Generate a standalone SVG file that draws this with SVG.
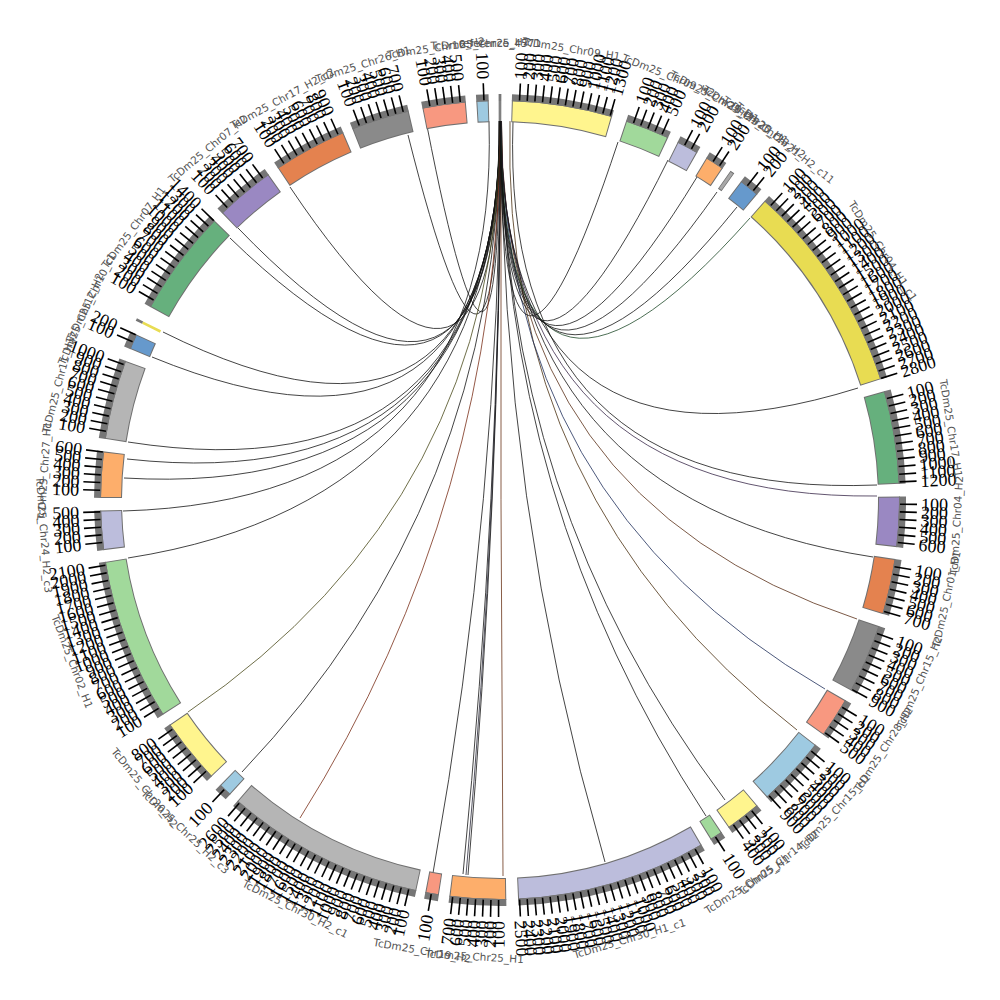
<svg xmlns="http://www.w3.org/2000/svg" xmlns:xlink="http://www.w3.org/1999/xlink" width="1000" height="1000" viewBox="0 0 1000 1000">
<style>
.bo{fill:none;stroke:#707070;stroke-width:22}
.fi{fill:none;stroke-width:20}
.bd{fill:none;stroke:#767676;stroke-width:7}
.R text,.L text{font-family:"Liberation Serif",serif;font-size:18px;fill:#000;dominant-baseline:central}
.L text{text-anchor:end}
.cl{font-family:"DejaVu Sans",sans-serif;font-size:10.5px;fill:#555;text-anchor:middle;dominant-baseline:central}
.lk path{fill:none;stroke:#141414;stroke-width:0.8}
</style>
<defs>
<line id="r" x1="900" y1="500" x2="917" y2="500" stroke="#000" stroke-width="1.6"/>
<line id="l" x1="100" y1="500" x2="83" y2="500" stroke="#000" stroke-width="1.6"/>
</defs>
<rect width="1000" height="1000" fill="#fff"/>
<g id="connectors" class="lk">
<path d="M499.2,121Q500,500 230,238"/>
<path d="M499.4,121Q500,500 238,228"/>
<path d="M499.6,121Q500,500 290,187"/>
<path d="M499,121Q500,500 408,135"/>
<path d="M499.8,121Q500,500 427,126"/>
<path d="M499.5,121Q500,500 163,332"/>
<path d="M499.7,121Q500,500 152,357"/>
<path d="M499.9,121Q500,500 128,442"/>
<path d="M500,121Q500,500 127,459"/>
<path d="M500.1,121Q500,500 124,478"/>
<path d="M489,121.3Q500,500 123,511"/>
<path d="M500.2,121Q500,500 128,558"/>
<path d="M500.3,121Q500,500 188,712" style="stroke:#4a4a1a"/>
<path d="M500.4,121Q500,500 242,772"/>
<path d="M500.5,121Q500,500 300,818" style="stroke:#7a2e18"/>
<path d="M500.6,121Q500,500 433,873"/>
<path d="M500.7,121Q500,500 463,874"/>
<path d="M500.8,121Q500,500 466,875" style="stroke:#2a2a3a"/>
<path d="M500.9,121Q500,500 468,875"/>
<path d="M501,121Q500,500 503,876" style="stroke:#6a3418"/>
<path d="M501.1,121Q500,500 605,862"/>
<path d="M501.2,121Q500,500 706,816"/>
<path d="M501.3,121Q500,500 725,800"/>
<path d="M510,121.1Q500,500 797,730" style="stroke:#4a3010"/>
<path d="M501.4,121Q500,500 825,689" style="stroke:#1f2f5a"/>
<path d="M501.5,121Q500,500 857,619" style="stroke:#5a3018"/>
<path d="M501.2,121Q500,500 873,557"/>
<path d="M501,121Q500,500 877,496" style="stroke:#3a2a4a"/>
<path d="M513,121.2Q500,500 877,485"/>
<path d="M500.8,121Q500,500 858,388"/>
<path d="M500.6,121Q500,500 750,218" style="stroke:#1f4a2a"/>
<path d="M500.5,121Q500,500 737,207"/>
<path d="M500.4,121Q500,500 717,192"/>
<path d="M500.3,121Q500,500 697,177"/>
<path d="M500.2,121Q500,500 668,160"/>
<path d="M500.1,121Q500,500 618,142"/>
</g>

<g id="A"><g transform="rotate(258.8 500 500)"><circle class="bo" cx="500" cy="500" r="389" stroke-dasharray="42.77 3000"/><circle class="fi" cx="500" cy="500" r="389" stroke="#f89880" stroke-dasharray="40.77 3000" stroke-dashoffset="-1"/><circle class="bd" cx="500" cy="500" r="402.5" stroke-dasharray="44.26 3000"/></g>
<g class="L"><g transform="rotate(79.9 500 500)"><use href="#l"/><text x="79" y="500">100</text></g><g transform="rotate(81 500 500)"><use href="#l"/><text x="79" y="500">200</text></g><g transform="rotate(82.1 500 500)"><use href="#l"/><text x="79" y="500">300</text></g><g transform="rotate(83.2 500 500)"><use href="#l"/><text x="79" y="500">400</text></g><g transform="rotate(84.3 500 500)"><use href="#l"/><text x="79" y="500">500</text></g></g>
<text class="cl" transform="rotate(-8.05 500 500)" x="500" y="43">TcDm25_Chr16_H2</text></g>

<g id="B"><g transform="rotate(266.6 500 500)"><circle class="bo" cx="500" cy="500" r="389" stroke-dasharray="12.22 3000"/><circle class="fi" cx="500" cy="500" r="389" stroke="#9ecae1" stroke-dasharray="10.22 3000" stroke-dashoffset="-1"/><circle class="bd" cx="500" cy="500" r="402.5" stroke-dasharray="12.65 3000"/></g>
<g class="L"><g transform="rotate(87.7 500 500)"><use href="#l"/><text x="79" y="500">100</text></g></g>
<text class="cl" transform="rotate(-2.5 500 500)" x="500" y="43">TcDm25_Chr25_H2</text></g>

<g id="C"><g transform="rotate(269.8 500 500)"><circle class="fi" cx="500" cy="500" r="389" stroke="#808080" stroke-dasharray="2.72 3000"/><circle class="bd" cx="500" cy="500" r="402.5" stroke-dasharray="2.81 3000"/></g>
<text class="cl" x="500" y="43">reference_4571</text></g>

<g id="D"><g transform="rotate(-88.3 500 500)"><circle class="bo" cx="500" cy="500" r="389" stroke-dasharray="99.12 3000"/><circle class="fi" cx="500" cy="500" r="389" stroke="#fff58e" stroke-dasharray="97.12 3000" stroke-dashoffset="-1"/><circle class="bd" cx="500" cy="500" r="402.5" stroke-dasharray="102.57 3000"/></g>
<g class="R"><g transform="rotate(-87.2 500 500)"><use href="#r"/><text x="921" y="500">100</text></g><g transform="rotate(-86.1 500 500)"><use href="#r"/><text x="921" y="500">200</text></g><g transform="rotate(-85 500 500)"><use href="#r"/><text x="921" y="500">300</text></g><g transform="rotate(-83.9 500 500)"><use href="#r"/><text x="921" y="500">400</text></g><g transform="rotate(-82.8 500 500)"><use href="#r"/><text x="921" y="500">500</text></g><g transform="rotate(-81.7 500 500)"><use href="#r"/><text x="921" y="500">600</text></g><g transform="rotate(-80.6 500 500)"><use href="#r"/><text x="921" y="500">700</text></g><g transform="rotate(-79.5 500 500)"><use href="#r"/><text x="921" y="500">800</text></g><g transform="rotate(-78.4 500 500)"><use href="#r"/><text x="921" y="500">900</text></g><g transform="rotate(-77.3 500 500)"><use href="#r"/><text x="921" y="500">1000</text></g><g transform="rotate(-76.2 500 500)"><use href="#r"/><text x="921" y="500">1100</text></g><g transform="rotate(-75.1 500 500)"><use href="#r"/><text x="921" y="500">1200</text></g><g transform="rotate(-74 500 500)"><use href="#r"/><text x="921" y="500">1300</text></g></g>
<text class="cl" transform="rotate(9 500 500)" x="500" y="43">TcDm25_Chr09_H1</text></g>

<g id="E"><g transform="rotate(-71.6 500 500)"><circle class="bo" cx="500" cy="500" r="389" stroke-dasharray="44.13 3000"/><circle class="fi" cx="500" cy="500" r="389" stroke="#a1d99b" stroke-dasharray="42.13 3000" stroke-dashoffset="-1"/><circle class="bd" cx="500" cy="500" r="402.5" stroke-dasharray="45.66 3000"/></g>
<g class="R"><g transform="rotate(-70.5 500 500)"><use href="#r"/><text x="921" y="500">100</text></g><g transform="rotate(-69.4 500 500)"><use href="#r"/><text x="921" y="500">200</text></g><g transform="rotate(-68.3 500 500)"><use href="#r"/><text x="921" y="500">300</text></g><g transform="rotate(-67.2 500 500)"><use href="#r"/><text x="921" y="500">400</text></g><g transform="rotate(-66.1 500 500)"><use href="#r"/><text x="921" y="500">500</text></g></g>
<text class="cl" transform="rotate(21.65 500 500)" x="500" y="43">TcDm25_Chr09_H2</text></g>

<g id="F"><g transform="rotate(-63.6 500 500)"><circle class="bo" cx="500" cy="500" r="389" stroke-dasharray="21.73 3000"/><circle class="fi" cx="500" cy="500" r="389" stroke="#bcbddc" stroke-dasharray="19.73 3000" stroke-dashoffset="-1"/><circle class="bd" cx="500" cy="500" r="402.5" stroke-dasharray="22.48 3000"/></g>
<g class="R"><g transform="rotate(-62.5 500 500)"><use href="#r"/><text x="921" y="500">100</text></g><g transform="rotate(-61.4 500 500)"><use href="#r"/><text x="921" y="500">200</text></g></g>
<text class="cl" transform="rotate(28 500 500)" x="500" y="43">TcDm25_Chr28_H1</text></g>

<g id="G"><g transform="rotate(-58.9 500 500)"><circle class="bo" cx="500" cy="500" r="389" stroke-dasharray="19.01 3000"/><circle class="fi" cx="500" cy="500" r="389" stroke="#fdae6b" stroke-dasharray="17.01 3000" stroke-dashoffset="-1"/><circle class="bd" cx="500" cy="500" r="402.5" stroke-dasharray="19.67 3000"/></g>
<g class="R"><g transform="rotate(-57.8 500 500)"><use href="#r"/><text x="921" y="500">100</text></g><g transform="rotate(-56.7 500 500)"><use href="#r"/><text x="921" y="500">200</text></g></g>
<text class="cl" transform="rotate(32.5 500 500)" x="500" y="43">TcDm25_Chr20_H1</text></g>

<g id="H"><g transform="rotate(-55 500 500)"><circle class="bo" cx="500" cy="500" r="391" stroke-width="26" stroke="#888" stroke-dasharray="4.5 3000"/><circle class="fi" cx="500" cy="500" r="391" stroke-width="24" stroke="#a8a8a8" stroke-dasharray="3 3000" stroke-dashoffset="-0.75"/></g>
<text class="cl" transform="rotate(35.3 500 500)" x="500" y="43">TcDm25_Chr23_H2</text></g>

<g id="I"><g transform="rotate(-52.9 500 500)"><circle class="bo" cx="500" cy="500" r="389" stroke-dasharray="20.37 3000"/><circle class="fi" cx="500" cy="500" r="389" stroke="#6699cc" stroke-dasharray="18.37 3000" stroke-dashoffset="-1"/><circle class="bd" cx="500" cy="500" r="402.5" stroke-dasharray="21.08 3000"/></g>
<g class="R"><g transform="rotate(-51.8 500 500)"><use href="#r"/><text x="921" y="500">100</text></g><g transform="rotate(-50.7 500 500)"><use href="#r"/><text x="921" y="500">200</text></g></g>
<text class="cl" transform="rotate(38.6 500 500)" x="500" y="43">TcDm25_Chr21_H2_c11</text></g>

<g id="J"><g transform="rotate(-48.5 500 500)"><circle class="bo" cx="500" cy="500" r="389" stroke-dasharray="209.78 3000"/><circle class="fi" cx="500" cy="500" r="389" stroke="#e8dc52" stroke-dasharray="207.78 3000" stroke-dashoffset="-1"/><circle class="bd" cx="500" cy="500" r="402.5" stroke-dasharray="217.07 3000"/></g>
<g class="R"><g transform="rotate(-47.4 500 500)"><use href="#r"/><text x="921" y="500">100</text></g><g transform="rotate(-46.3 500 500)"><use href="#r"/><text x="921" y="500">200</text></g><g transform="rotate(-45.2 500 500)"><use href="#r"/><text x="921" y="500">300</text></g><g transform="rotate(-44.1 500 500)"><use href="#r"/><text x="921" y="500">400</text></g><g transform="rotate(-43 500 500)"><use href="#r"/><text x="921" y="500">500</text></g><g transform="rotate(-41.9 500 500)"><use href="#r"/><text x="921" y="500">600</text></g><g transform="rotate(-40.8 500 500)"><use href="#r"/><text x="921" y="500">700</text></g><g transform="rotate(-39.7 500 500)"><use href="#r"/><text x="921" y="500">800</text></g><g transform="rotate(-38.6 500 500)"><use href="#r"/><text x="921" y="500">900</text></g><g transform="rotate(-37.5 500 500)"><use href="#r"/><text x="921" y="500">1000</text></g><g transform="rotate(-36.4 500 500)"><use href="#r"/><text x="921" y="500">1100</text></g><g transform="rotate(-35.3 500 500)"><use href="#r"/><text x="921" y="500">1200</text></g><g transform="rotate(-34.2 500 500)"><use href="#r"/><text x="921" y="500">1300</text></g><g transform="rotate(-33.1 500 500)"><use href="#r"/><text x="921" y="500">1400</text></g><g transform="rotate(-32 500 500)"><use href="#r"/><text x="921" y="500">1500</text></g><g transform="rotate(-30.9 500 500)"><use href="#r"/><text x="921" y="500">1600</text></g><g transform="rotate(-29.8 500 500)"><use href="#r"/><text x="921" y="500">1700</text></g><g transform="rotate(-28.7 500 500)"><use href="#r"/><text x="921" y="500">1800</text></g><g transform="rotate(-27.6 500 500)"><use href="#r"/><text x="921" y="500">1900</text></g><g transform="rotate(-26.5 500 500)"><use href="#r"/><text x="921" y="500">2000</text></g><g transform="rotate(-25.4 500 500)"><use href="#r"/><text x="921" y="500">2100</text></g><g transform="rotate(-24.3 500 500)"><use href="#r"/><text x="921" y="500">2200</text></g><g transform="rotate(-23.2 500 500)"><use href="#r"/><text x="921" y="500">2300</text></g><g transform="rotate(-22.1 500 500)"><use href="#r"/><text x="921" y="500">2400</text></g><g transform="rotate(-21 500 500)"><use href="#r"/><text x="921" y="500">2500</text></g><g transform="rotate(-19.9 500 500)"><use href="#r"/><text x="921" y="500">2600</text></g><g transform="rotate(-18.8 500 500)"><use href="#r"/><text x="921" y="500">2700</text></g><g transform="rotate(-17.7 500 500)"><use href="#r"/><text x="921" y="500">2800</text></g></g>
<text class="cl" transform="rotate(56.95 500 500)" x="500" y="43">TcDm25_Chr04_H1_c1</text></g>

<g id="K"><g transform="rotate(-15.8 500 500)"><circle class="bo" cx="500" cy="500" r="389" stroke-dasharray="91.65 3000"/><circle class="fi" cx="500" cy="500" r="389" stroke="#66b07d" stroke-dasharray="89.65 3000" stroke-dashoffset="-1"/><circle class="bd" cx="500" cy="500" r="402.5" stroke-dasharray="94.84 3000"/></g>
<g class="R"><g transform="rotate(-14.7 500 500)"><use href="#r"/><text x="921" y="500">100</text></g><g transform="rotate(-13.6 500 500)"><use href="#r"/><text x="921" y="500">200</text></g><g transform="rotate(-12.5 500 500)"><use href="#r"/><text x="921" y="500">300</text></g><g transform="rotate(-11.4 500 500)"><use href="#r"/><text x="921" y="500">400</text></g><g transform="rotate(-10.3 500 500)"><use href="#r"/><text x="921" y="500">500</text></g><g transform="rotate(-9.2 500 500)"><use href="#r"/><text x="921" y="500">600</text></g><g transform="rotate(-8.1 500 500)"><use href="#r"/><text x="921" y="500">700</text></g><g transform="rotate(-7 500 500)"><use href="#r"/><text x="921" y="500">800</text></g><g transform="rotate(-5.9 500 500)"><use href="#r"/><text x="921" y="500">900</text></g><g transform="rotate(-4.8 500 500)"><use href="#r"/><text x="921" y="500">1000</text></g><g transform="rotate(-3.7 500 500)"><use href="#r"/><text x="921" y="500">1100</text></g><g transform="rotate(-2.6 500 500)"><use href="#r"/><text x="921" y="500">1200</text></g></g>
<text class="cl" transform="rotate(80.95 500 500)" x="500" y="43">TcDm25_Chr17_H1</text></g>

<g id="L"><g transform="rotate(-0.5 500 500)"><circle class="bo" cx="500" cy="500" r="389" stroke-dasharray="49.56 3000"/><circle class="fi" cx="500" cy="500" r="389" stroke="#9a88c2" stroke-dasharray="47.56 3000" stroke-dashoffset="-1"/><circle class="bd" cx="500" cy="500" r="402.5" stroke-dasharray="51.28 3000"/></g>
<g class="R"><g transform="rotate(0.6 500 500)"><use href="#r"/><text x="921" y="500">100</text></g><g transform="rotate(1.7 500 500)"><use href="#r"/><text x="921" y="500">200</text></g><g transform="rotate(2.8 500 500)"><use href="#r"/><text x="921" y="500">300</text></g><g transform="rotate(3.9 500 500)"><use href="#r"/><text x="921" y="500">400</text></g><g transform="rotate(5 500 500)"><use href="#r"/><text x="921" y="500">500</text></g><g transform="rotate(6.1 500 500)"><use href="#r"/><text x="921" y="500">600</text></g></g>
<text class="cl" transform="rotate(-86.85 500 500)" x="500" y="957">TcDm25_Chr04_H2</text></g>

<g id="M"><g transform="rotate(8.5 500 500)"><circle class="bo" cx="500" cy="500" r="389" stroke-dasharray="54.99 3000"/><circle class="fi" cx="500" cy="500" r="389" stroke="#e4824f" stroke-dasharray="52.99 3000" stroke-dashoffset="-1"/><circle class="bd" cx="500" cy="500" r="402.5" stroke-dasharray="56.9 3000"/></g>
<g class="R"><g transform="rotate(9.6 500 500)"><use href="#r"/><text x="921" y="500">100</text></g><g transform="rotate(10.7 500 500)"><use href="#r"/><text x="921" y="500">200</text></g><g transform="rotate(11.8 500 500)"><use href="#r"/><text x="921" y="500">300</text></g><g transform="rotate(12.9 500 500)"><use href="#r"/><text x="921" y="500">400</text></g><g transform="rotate(14 500 500)"><use href="#r"/><text x="921" y="500">500</text></g><g transform="rotate(15.1 500 500)"><use href="#r"/><text x="921" y="500">600</text></g><g transform="rotate(16.2 500 500)"><use href="#r"/><text x="921" y="500">700</text></g></g>
<text class="cl" transform="rotate(-77.45 500 500)" x="500" y="957">TcDm25_Chr01_H1</text></g>

<g id="N"><g transform="rotate(18.4 500 500)"><circle class="bo" cx="500" cy="500" r="389" stroke-dasharray="68.57 3000"/><circle class="fi" cx="500" cy="500" r="389" stroke="#8a8a8a" stroke-dasharray="66.57 3000" stroke-dashoffset="-1"/><circle class="bd" cx="500" cy="500" r="402.5" stroke-dasharray="70.95 3000"/></g>
<g class="R"><g transform="rotate(19.5 500 500)"><use href="#r"/><text x="921" y="500">100</text></g><g transform="rotate(20.6 500 500)"><use href="#r"/><text x="921" y="500">200</text></g><g transform="rotate(21.7 500 500)"><use href="#r"/><text x="921" y="500">300</text></g><g transform="rotate(22.8 500 500)"><use href="#r"/><text x="921" y="500">400</text></g><g transform="rotate(23.9 500 500)"><use href="#r"/><text x="921" y="500">500</text></g><g transform="rotate(25 500 500)"><use href="#r"/><text x="921" y="500">600</text></g><g transform="rotate(26.1 500 500)"><use href="#r"/><text x="921" y="500">700</text></g><g transform="rotate(27.2 500 500)"><use href="#r"/><text x="921" y="500">800</text></g><g transform="rotate(28.3 500 500)"><use href="#r"/><text x="921" y="500">900</text></g></g>
<text class="cl" transform="rotate(-66.55 500 500)" x="500" y="957">TcDm25_Chr15_H2</text></g>

<g id="O"><g transform="rotate(30.1 500 500)"><circle class="bo" cx="500" cy="500" r="389" stroke-dasharray="40.06 3000"/><circle class="fi" cx="500" cy="500" r="389" stroke="#f89880" stroke-dasharray="38.06 3000" stroke-dashoffset="-1"/><circle class="bd" cx="500" cy="500" r="402.5" stroke-dasharray="41.45 3000"/></g>
<g class="R"><g transform="rotate(31.2 500 500)"><use href="#r"/><text x="921" y="500">100</text></g><g transform="rotate(32.3 500 500)"><use href="#r"/><text x="921" y="500">200</text></g><g transform="rotate(33.4 500 500)"><use href="#r"/><text x="921" y="500">300</text></g><g transform="rotate(34.5 500 500)"><use href="#r"/><text x="921" y="500">400</text></g><g transform="rotate(35.6 500 500)"><use href="#r"/><text x="921" y="500">500</text></g></g>
<text class="cl" transform="rotate(-56.95 500 500)" x="500" y="957">TcDm25_Chr28_H2</text></g>

<g id="P"><g transform="rotate(37.8 500 500)"><circle class="bo" cx="500" cy="500" r="389" stroke-dasharray="69.93 3000"/><circle class="fi" cx="500" cy="500" r="389" stroke="#9ecae1" stroke-dasharray="67.93 3000" stroke-dashoffset="-1"/><circle class="bd" cx="500" cy="500" r="402.5" stroke-dasharray="72.36 3000"/></g>
<g class="R"><g transform="rotate(38.9 500 500)"><use href="#r"/><text x="921" y="500">100</text></g><g transform="rotate(40 500 500)"><use href="#r"/><text x="921" y="500">200</text></g><g transform="rotate(41.1 500 500)"><use href="#r"/><text x="921" y="500">300</text></g><g transform="rotate(42.2 500 500)"><use href="#r"/><text x="921" y="500">400</text></g><g transform="rotate(43.3 500 500)"><use href="#r"/><text x="921" y="500">500</text></g><g transform="rotate(44.4 500 500)"><use href="#r"/><text x="921" y="500">600</text></g><g transform="rotate(45.5 500 500)"><use href="#r"/><text x="921" y="500">700</text></g><g transform="rotate(46.6 500 500)"><use href="#r"/><text x="921" y="500">800</text></g><g transform="rotate(47.7 500 500)"><use href="#r"/><text x="921" y="500">900</text></g></g>
<text class="cl" transform="rotate(-47.05 500 500)" x="500" y="957">TcDm25_Chr15_H1</text></g>

<g id="Q"><g transform="rotate(49.9 500 500)"><circle class="bo" cx="500" cy="500" r="389" stroke-dasharray="35.3 3000"/><circle class="fi" cx="500" cy="500" r="389" stroke="#fff58e" stroke-dasharray="33.3 3000" stroke-dashoffset="-1"/><circle class="bd" cx="500" cy="500" r="402.5" stroke-dasharray="36.53 3000"/></g>
<g class="R"><g transform="rotate(51 500 500)"><use href="#r"/><text x="921" y="500">100</text></g><g transform="rotate(52.1 500 500)"><use href="#r"/><text x="921" y="500">200</text></g><g transform="rotate(53.2 500 500)"><use href="#r"/><text x="921" y="500">300</text></g><g transform="rotate(54.3 500 500)"><use href="#r"/><text x="921" y="500">400</text></g></g>
<text class="cl" transform="rotate(-37.5 500 500)" x="500" y="957">TcDm25_Chr14_H2</text></g>

<g id="R2"><g transform="rotate(56.3 500 500)"><circle class="bo" cx="500" cy="500" r="389" stroke-dasharray="12.9 3000"/><circle class="fi" cx="500" cy="500" r="389" stroke="#a1d99b" stroke-dasharray="10.9 3000" stroke-dashoffset="-1"/><circle class="bd" cx="500" cy="500" r="402.5" stroke-dasharray="13.35 3000"/></g>
<g class="R"><g transform="rotate(57.4 500 500)"><use href="#r"/><text x="921" y="500">100</text></g></g>
<text class="cl" transform="rotate(-32.75 500 500)" x="500" y="957">TcDm25_Chr05_H1</text></g>

<g id="S"><g transform="rotate(59.7 500 500)"><circle class="bo" cx="500" cy="500" r="389" stroke-dasharray="188.06 3000"/><circle class="fi" cx="500" cy="500" r="389" stroke="#bcbddc" stroke-dasharray="186.06 3000" stroke-dashoffset="-1"/><circle class="bd" cx="500" cy="500" r="402.5" stroke-dasharray="194.59 3000"/></g>
<g class="R"><g transform="rotate(60.8 500 500)"><use href="#r"/><text x="921" y="500">100</text></g><g transform="rotate(61.9 500 500)"><use href="#r"/><text x="921" y="500">200</text></g><g transform="rotate(63 500 500)"><use href="#r"/><text x="921" y="500">300</text></g><g transform="rotate(64.1 500 500)"><use href="#r"/><text x="921" y="500">400</text></g><g transform="rotate(65.2 500 500)"><use href="#r"/><text x="921" y="500">500</text></g><g transform="rotate(66.3 500 500)"><use href="#r"/><text x="921" y="500">600</text></g><g transform="rotate(67.4 500 500)"><use href="#r"/><text x="921" y="500">700</text></g><g transform="rotate(68.5 500 500)"><use href="#r"/><text x="921" y="500">800</text></g><g transform="rotate(69.6 500 500)"><use href="#r"/><text x="921" y="500">900</text></g><g transform="rotate(70.7 500 500)"><use href="#r"/><text x="921" y="500">1000</text></g><g transform="rotate(71.8 500 500)"><use href="#r"/><text x="921" y="500">1100</text></g><g transform="rotate(72.9 500 500)"><use href="#r"/><text x="921" y="500">1200</text></g><g transform="rotate(74 500 500)"><use href="#r"/><text x="921" y="500">1300</text></g><g transform="rotate(75.1 500 500)"><use href="#r"/><text x="921" y="500">1400</text></g><g transform="rotate(76.2 500 500)"><use href="#r"/><text x="921" y="500">1500</text></g><g transform="rotate(77.3 500 500)"><use href="#r"/><text x="921" y="500">1600</text></g><g transform="rotate(78.4 500 500)"><use href="#r"/><text x="921" y="500">1700</text></g><g transform="rotate(79.5 500 500)"><use href="#r"/><text x="921" y="500">1800</text></g><g transform="rotate(80.6 500 500)"><use href="#r"/><text x="921" y="500">1900</text></g><g transform="rotate(81.7 500 500)"><use href="#r"/><text x="921" y="500">2000</text></g><g transform="rotate(82.8 500 500)"><use href="#r"/><text x="921" y="500">2100</text></g><g transform="rotate(83.9 500 500)"><use href="#r"/><text x="921" y="500">2200</text></g><g transform="rotate(85 500 500)"><use href="#r"/><text x="921" y="500">2300</text></g><g transform="rotate(86.1 500 500)"><use href="#r"/><text x="921" y="500">2400</text></g><g transform="rotate(87.2 500 500)"><use href="#r"/><text x="921" y="500">2500</text></g></g>
<text class="cl" transform="rotate(-16.45 500 500)" x="500" y="957">TcDm25_Chr30_H1_c1</text></g>

<g id="T"><g transform="rotate(89.1 500 500)"><circle class="bo" cx="500" cy="500" r="389" stroke-dasharray="55.67 3000"/><circle class="fi" cx="500" cy="500" r="389" stroke="#fdae6b" stroke-dasharray="53.67 3000" stroke-dashoffset="-1"/><circle class="bd" cx="500" cy="500" r="402.5" stroke-dasharray="57.61 3000"/></g>
<g class="L"><g transform="rotate(-89.8 500 500)"><use href="#l"/><text x="79" y="500">100</text></g><g transform="rotate(-88.7 500 500)"><use href="#l"/><text x="79" y="500">200</text></g><g transform="rotate(-87.6 500 500)"><use href="#l"/><text x="79" y="500">300</text></g><g transform="rotate(-86.5 500 500)"><use href="#l"/><text x="79" y="500">400</text></g><g transform="rotate(-85.4 500 500)"><use href="#l"/><text x="79" y="500">500</text></g><g transform="rotate(-84.3 500 500)"><use href="#l"/><text x="79" y="500">600</text></g><g transform="rotate(-83.2 500 500)"><use href="#l"/><text x="79" y="500">700</text></g></g>
<text class="cl" transform="rotate(3.2 500 500)" x="500" y="957">TcDm25_Chr25_H1</text></g>

<g id="U"><g transform="rotate(98.8 500 500)"><circle class="bo" cx="500" cy="500" r="389" stroke-dasharray="13.58 3000"/><circle class="fi" cx="500" cy="500" r="389" stroke="#f89880" stroke-dasharray="11.58 3000" stroke-dashoffset="-1"/><circle class="bd" cx="500" cy="500" r="402.5" stroke-dasharray="14.05 3000"/></g>
<g class="L"><g transform="rotate(-80.1 500 500)"><use href="#l"/><text x="79" y="500">100</text></g></g>
<text class="cl" transform="rotate(9.8 500 500)" x="500" y="957">TcDm25_Chr19_H2</text></g>

<g id="V"><g transform="rotate(102.1 500 500)"><circle class="bo" cx="500" cy="500" r="389" stroke-dasharray="196.88 3000"/><circle class="fi" cx="500" cy="500" r="389" stroke="#b5b5b5" stroke-dasharray="194.88 3000" stroke-dashoffset="-1"/><circle class="bd" cx="500" cy="500" r="402.5" stroke-dasharray="203.72 3000"/></g>
<g class="L"><g transform="rotate(-76.8 500 500)"><use href="#l"/><text x="79" y="500">100</text></g><g transform="rotate(-75.7 500 500)"><use href="#l"/><text x="79" y="500">200</text></g><g transform="rotate(-74.6 500 500)"><use href="#l"/><text x="79" y="500">300</text></g><g transform="rotate(-73.5 500 500)"><use href="#l"/><text x="79" y="500">400</text></g><g transform="rotate(-72.4 500 500)"><use href="#l"/><text x="79" y="500">500</text></g><g transform="rotate(-71.3 500 500)"><use href="#l"/><text x="79" y="500">600</text></g><g transform="rotate(-70.2 500 500)"><use href="#l"/><text x="79" y="500">700</text></g><g transform="rotate(-69.1 500 500)"><use href="#l"/><text x="79" y="500">800</text></g><g transform="rotate(-68 500 500)"><use href="#l"/><text x="79" y="500">900</text></g><g transform="rotate(-66.9 500 500)"><use href="#l"/><text x="79" y="500">1000</text></g><g transform="rotate(-65.8 500 500)"><use href="#l"/><text x="79" y="500">1100</text></g><g transform="rotate(-64.7 500 500)"><use href="#l"/><text x="79" y="500">1200</text></g><g transform="rotate(-63.6 500 500)"><use href="#l"/><text x="79" y="500">1300</text></g><g transform="rotate(-62.5 500 500)"><use href="#l"/><text x="79" y="500">1400</text></g><g transform="rotate(-61.4 500 500)"><use href="#l"/><text x="79" y="500">1500</text></g><g transform="rotate(-60.3 500 500)"><use href="#l"/><text x="79" y="500">1600</text></g><g transform="rotate(-59.2 500 500)"><use href="#l"/><text x="79" y="500">1700</text></g><g transform="rotate(-58.1 500 500)"><use href="#l"/><text x="79" y="500">1800</text></g><g transform="rotate(-57 500 500)"><use href="#l"/><text x="79" y="500">1900</text></g><g transform="rotate(-55.9 500 500)"><use href="#l"/><text x="79" y="500">2000</text></g><g transform="rotate(-54.8 500 500)"><use href="#l"/><text x="79" y="500">2100</text></g><g transform="rotate(-53.7 500 500)"><use href="#l"/><text x="79" y="500">2200</text></g><g transform="rotate(-52.6 500 500)"><use href="#l"/><text x="79" y="500">2300</text></g><g transform="rotate(-51.5 500 500)"><use href="#l"/><text x="79" y="500">2400</text></g><g transform="rotate(-50.4 500 500)"><use href="#l"/><text x="79" y="500">2500</text></g><g transform="rotate(-49.3 500 500)"><use href="#l"/><text x="79" y="500">2600</text></g></g>
<text class="cl" transform="rotate(26.6 500 500)" x="500" y="957">TcDm25_Chr30_H2_c1</text></g>

<g id="W"><g transform="rotate(132.5 500 500)"><circle class="bo" cx="500" cy="500" r="389" stroke-dasharray="13.58 3000"/><circle class="fi" cx="500" cy="500" r="389" stroke="#9ecae1" stroke-dasharray="11.58 3000" stroke-dashoffset="-1"/><circle class="bd" cx="500" cy="500" r="402.5" stroke-dasharray="14.05 3000"/></g>
<g class="L"><g transform="rotate(-46.4 500 500)"><use href="#l"/><text x="79" y="500">100</text></g></g>
<text class="cl" transform="rotate(43.5 500 500)" x="500" y="957">TcDm25_Chr25_H2_c3</text></g>

<g id="X"><g transform="rotate(136.2 500 500)"><circle class="bo" cx="500" cy="500" r="389" stroke-dasharray="65.17 3000"/><circle class="fi" cx="500" cy="500" r="389" stroke="#fff58e" stroke-dasharray="63.17 3000" stroke-dashoffset="-1"/><circle class="bd" cx="500" cy="500" r="402.5" stroke-dasharray="67.44 3000"/></g>
<g class="L"><g transform="rotate(-42.7 500 500)"><use href="#l"/><text x="79" y="500">100</text></g><g transform="rotate(-41.6 500 500)"><use href="#l"/><text x="79" y="500">200</text></g><g transform="rotate(-40.5 500 500)"><use href="#l"/><text x="79" y="500">300</text></g><g transform="rotate(-39.4 500 500)"><use href="#l"/><text x="79" y="500">400</text></g><g transform="rotate(-38.3 500 500)"><use href="#l"/><text x="79" y="500">500</text></g><g transform="rotate(-37.2 500 500)"><use href="#l"/><text x="79" y="500">600</text></g><g transform="rotate(-36.1 500 500)"><use href="#l"/><text x="79" y="500">700</text></g><g transform="rotate(-35 500 500)"><use href="#l"/><text x="79" y="500">800</text></g></g>
<text class="cl" transform="rotate(51 500 500)" x="500" y="957">TcDm25_Chr20_H2</text></g>

<g id="Y"><g transform="rotate(147.5 500 500)"><circle class="bo" cx="500" cy="500" r="389" stroke-dasharray="160.22 3000"/><circle class="fi" cx="500" cy="500" r="389" stroke="#a1d99b" stroke-dasharray="158.22 3000" stroke-dashoffset="-1"/><circle class="bd" cx="500" cy="500" r="402.5" stroke-dasharray="165.79 3000"/></g>
<g class="L"><g transform="rotate(-31.4 500 500)"><use href="#l"/><text x="79" y="500">100</text></g><g transform="rotate(-30.3 500 500)"><use href="#l"/><text x="79" y="500">200</text></g><g transform="rotate(-29.2 500 500)"><use href="#l"/><text x="79" y="500">300</text></g><g transform="rotate(-28.1 500 500)"><use href="#l"/><text x="79" y="500">400</text></g><g transform="rotate(-27 500 500)"><use href="#l"/><text x="79" y="500">500</text></g><g transform="rotate(-25.9 500 500)"><use href="#l"/><text x="79" y="500">600</text></g><g transform="rotate(-24.8 500 500)"><use href="#l"/><text x="79" y="500">700</text></g><g transform="rotate(-23.7 500 500)"><use href="#l"/><text x="79" y="500">800</text></g><g transform="rotate(-22.6 500 500)"><use href="#l"/><text x="79" y="500">900</text></g><g transform="rotate(-21.5 500 500)"><use href="#l"/><text x="79" y="500">1000</text></g><g transform="rotate(-20.4 500 500)"><use href="#l"/><text x="79" y="500">1100</text></g><g transform="rotate(-19.3 500 500)"><use href="#l"/><text x="79" y="500">1200</text></g><g transform="rotate(-18.2 500 500)"><use href="#l"/><text x="79" y="500">1300</text></g><g transform="rotate(-17.1 500 500)"><use href="#l"/><text x="79" y="500">1400</text></g><g transform="rotate(-16 500 500)"><use href="#l"/><text x="79" y="500">1500</text></g><g transform="rotate(-14.9 500 500)"><use href="#l"/><text x="79" y="500">1600</text></g><g transform="rotate(-13.8 500 500)"><use href="#l"/><text x="79" y="500">1700</text></g><g transform="rotate(-12.7 500 500)"><use href="#l"/><text x="79" y="500">1800</text></g><g transform="rotate(-11.6 500 500)"><use href="#l"/><text x="79" y="500">1900</text></g><g transform="rotate(-10.5 500 500)"><use href="#l"/><text x="79" y="500">2000</text></g><g transform="rotate(-9.4 500 500)"><use href="#l"/><text x="79" y="500">2100</text></g></g>
<text class="cl" transform="rotate(69.3 500 500)" x="500" y="957">TcDm25_Chr02_H1</text></g>

<g id="Z"><g transform="rotate(172.8 500 500)"><circle class="bo" cx="500" cy="500" r="389" stroke-dasharray="38.7 3000"/><circle class="fi" cx="500" cy="500" r="389" stroke="#bcbddc" stroke-dasharray="36.7 3000" stroke-dashoffset="-1"/><circle class="bd" cx="500" cy="500" r="402.5" stroke-dasharray="40.04 3000"/></g>
<g class="L"><g transform="rotate(-6.1 500 500)"><use href="#l"/><text x="79" y="500">100</text></g><g transform="rotate(-5 500 500)"><use href="#l"/><text x="79" y="500">200</text></g><g transform="rotate(-3.9 500 500)"><use href="#l"/><text x="79" y="500">300</text></g><g transform="rotate(-2.8 500 500)"><use href="#l"/><text x="79" y="500">400</text></g><g transform="rotate(-1.7 500 500)"><use href="#l"/><text x="79" y="500">500</text></g></g>
<text class="cl" transform="rotate(85.65 500 500)" x="500" y="957">TcDm25_Chr24_H2_c3</text></g>

<g id="AA"><g transform="rotate(180.3 500 500)"><circle class="bo" cx="500" cy="500" r="389" stroke-dasharray="45.49 3000"/><circle class="fi" cx="500" cy="500" r="389" stroke="#fdae6b" stroke-dasharray="43.49 3000" stroke-dashoffset="-1"/><circle class="bd" cx="500" cy="500" r="402.5" stroke-dasharray="47.07 3000"/></g>
<g class="L"><g transform="rotate(1.4 500 500)"><use href="#l"/><text x="79" y="500">100</text></g><g transform="rotate(2.5 500 500)"><use href="#l"/><text x="79" y="500">200</text></g><g transform="rotate(3.6 500 500)"><use href="#l"/><text x="79" y="500">300</text></g><g transform="rotate(4.7 500 500)"><use href="#l"/><text x="79" y="500">400</text></g><g transform="rotate(5.8 500 500)"><use href="#l"/><text x="79" y="500">500</text></g><g transform="rotate(6.9 500 500)"><use href="#l"/><text x="79" y="500">600</text></g></g>
<text class="cl" transform="rotate(-86.35 500 500)" x="500" y="43">TcDm25_Chr27_H1</text></g>

<g id="AB"><g transform="rotate(188.8 500 500)"><circle class="bo" cx="500" cy="500" r="389" stroke-dasharray="78.75 3000"/><circle class="fi" cx="500" cy="500" r="389" stroke="#b5b5b5" stroke-dasharray="76.75 3000" stroke-dashoffset="-1"/><circle class="bd" cx="500" cy="500" r="402.5" stroke-dasharray="81.49 3000"/></g>
<g class="L"><g transform="rotate(9.9 500 500)"><use href="#l"/><text x="79" y="500">100</text></g><g transform="rotate(11 500 500)"><use href="#l"/><text x="79" y="500">200</text></g><g transform="rotate(12.1 500 500)"><use href="#l"/><text x="79" y="500">300</text></g><g transform="rotate(13.2 500 500)"><use href="#l"/><text x="79" y="500">400</text></g><g transform="rotate(14.3 500 500)"><use href="#l"/><text x="79" y="500">500</text></g><g transform="rotate(15.4 500 500)"><use href="#l"/><text x="79" y="500">600</text></g><g transform="rotate(16.5 500 500)"><use href="#l"/><text x="79" y="500">700</text></g><g transform="rotate(17.6 500 500)"><use href="#l"/><text x="79" y="500">800</text></g><g transform="rotate(18.7 500 500)"><use href="#l"/><text x="79" y="500">900</text></g><g transform="rotate(19.8 500 500)"><use href="#l"/><text x="79" y="500">1000</text></g></g>
<text class="cl" transform="rotate(-75.4 500 500)" x="500" y="43">TcDm25_Chr11_H1</text></g>

<g id="AC"><g transform="rotate(202.2 500 500)"><circle class="bo" cx="500" cy="500" r="389" stroke-dasharray="15.61 3000"/><circle class="fi" cx="500" cy="500" r="389" stroke="#6699cc" stroke-dasharray="13.61 3000" stroke-dashoffset="-1"/><circle class="bd" cx="500" cy="500" r="402.5" stroke-dasharray="16.16 3000"/></g>
<g class="L"><g transform="rotate(23.3 500 500)"><use href="#l"/><text x="79" y="500">100</text></g><g transform="rotate(24.4 500 500)"><use href="#l"/><text x="79" y="500">200</text></g></g>
<text class="cl" transform="rotate(-66.65 500 500)" x="500" y="43">TcDm25_Chr12_H2</text></g>

<g id="AD"><g transform="rotate(206.2 500 500)"><circle class="fi" cx="500" cy="500" r="389" stroke="#e8dc52" stroke-dasharray="2.72 3000"/><circle class="bd" cx="500" cy="500" r="402.5" stroke-dasharray="2.81 3000"/></g>
<text class="cl" transform="rotate(-63.6 500 500)" x="500" y="43">TcDm25_Chr10_c1</text></g>

<g id="AE"><g transform="rotate(208.9 500 500)"><circle class="bo" cx="500" cy="500" r="389" stroke-dasharray="105.23 3000"/><circle class="fi" cx="500" cy="500" r="389" stroke="#66b07d" stroke-dasharray="103.23 3000" stroke-dashoffset="-1"/><circle class="bd" cx="500" cy="500" r="402.5" stroke-dasharray="108.89 3000"/></g>
<g class="L"><g transform="rotate(30 500 500)"><use href="#l"/><text x="79" y="500">100</text></g><g transform="rotate(31.1 500 500)"><use href="#l"/><text x="79" y="500">200</text></g><g transform="rotate(32.2 500 500)"><use href="#l"/><text x="79" y="500">300</text></g><g transform="rotate(33.3 500 500)"><use href="#l"/><text x="79" y="500">400</text></g><g transform="rotate(34.4 500 500)"><use href="#l"/><text x="79" y="500">500</text></g><g transform="rotate(35.5 500 500)"><use href="#l"/><text x="79" y="500">600</text></g><g transform="rotate(36.6 500 500)"><use href="#l"/><text x="79" y="500">700</text></g><g transform="rotate(37.7 500 500)"><use href="#l"/><text x="79" y="500">800</text></g><g transform="rotate(38.8 500 500)"><use href="#l"/><text x="79" y="500">900</text></g><g transform="rotate(39.9 500 500)"><use href="#l"/><text x="79" y="500">1000</text></g><g transform="rotate(41 500 500)"><use href="#l"/><text x="79" y="500">1100</text></g><g transform="rotate(42.1 500 500)"><use href="#l"/><text x="79" y="500">1200</text></g><g transform="rotate(43.2 500 500)"><use href="#l"/><text x="79" y="500">1300</text></g><g transform="rotate(44.3 500 500)"><use href="#l"/><text x="79" y="500">1400</text></g></g>
<text class="cl" transform="rotate(-53.35 500 500)" x="500" y="43">TcDm25_Chr07_H1</text></g>

<g id="AF"><g transform="rotate(225.9 500 500)"><circle class="bo" cx="500" cy="500" r="389" stroke-dasharray="59.07 3000"/><circle class="fi" cx="500" cy="500" r="389" stroke="#9a88c2" stroke-dasharray="57.07 3000" stroke-dashoffset="-1"/><circle class="bd" cx="500" cy="500" r="402.5" stroke-dasharray="61.12 3000"/></g>
<g class="L"><g transform="rotate(47 500 500)"><use href="#l"/><text x="79" y="500">100</text></g><g transform="rotate(48.1 500 500)"><use href="#l"/><text x="79" y="500">200</text></g><g transform="rotate(49.2 500 500)"><use href="#l"/><text x="79" y="500">300</text></g><g transform="rotate(50.3 500 500)"><use href="#l"/><text x="79" y="500">400</text></g><g transform="rotate(51.4 500 500)"><use href="#l"/><text x="79" y="500">500</text></g><g transform="rotate(52.5 500 500)"><use href="#l"/><text x="79" y="500">600</text></g><g transform="rotate(53.6 500 500)"><use href="#l"/><text x="79" y="500">700</text></g></g>
<text class="cl" transform="rotate(-39.75 500 500)" x="500" y="43">TcDm25_Chr07_H2</text></g>

<g id="AG"><g transform="rotate(236.2 500 500)"><circle class="bo" cx="500" cy="500" r="389" stroke-dasharray="72.64 3000"/><circle class="fi" cx="500" cy="500" r="389" stroke="#e4824f" stroke-dasharray="70.64 3000" stroke-dashoffset="-1"/><circle class="bd" cx="500" cy="500" r="402.5" stroke-dasharray="75.17 3000"/></g>
<g class="L"><g transform="rotate(57.3 500 500)"><use href="#l"/><text x="79" y="500">100</text></g><g transform="rotate(58.4 500 500)"><use href="#l"/><text x="79" y="500">200</text></g><g transform="rotate(59.5 500 500)"><use href="#l"/><text x="79" y="500">300</text></g><g transform="rotate(60.6 500 500)"><use href="#l"/><text x="79" y="500">400</text></g><g transform="rotate(61.7 500 500)"><use href="#l"/><text x="79" y="500">500</text></g><g transform="rotate(62.8 500 500)"><use href="#l"/><text x="79" y="500">600</text></g><g transform="rotate(63.9 500 500)"><use href="#l"/><text x="79" y="500">700</text></g><g transform="rotate(65 500 500)"><use href="#l"/><text x="79" y="500">800</text></g><g transform="rotate(66.1 500 500)"><use href="#l"/><text x="79" y="500">900</text></g></g>
<text class="cl" transform="rotate(-28.45 500 500)" x="500" y="43">TcDm25_Chr17_H2_c2</text></g>

<g id="AH"><g transform="rotate(248.3 500 500)"><circle class="bo" cx="500" cy="500" r="389" stroke-dasharray="57.71 3000"/><circle class="fi" cx="500" cy="500" r="389" stroke="#8a8a8a" stroke-dasharray="55.71 3000" stroke-dashoffset="-1"/><circle class="bd" cx="500" cy="500" r="402.5" stroke-dasharray="59.71 3000"/></g>
<g class="L"><g transform="rotate(69.4 500 500)"><use href="#l"/><text x="79" y="500">100</text></g><g transform="rotate(70.5 500 500)"><use href="#l"/><text x="79" y="500">200</text></g><g transform="rotate(71.6 500 500)"><use href="#l"/><text x="79" y="500">300</text></g><g transform="rotate(72.7 500 500)"><use href="#l"/><text x="79" y="500">400</text></g><g transform="rotate(73.8 500 500)"><use href="#l"/><text x="79" y="500">500</text></g><g transform="rotate(74.9 500 500)"><use href="#l"/><text x="79" y="500">600</text></g><g transform="rotate(76 500 500)"><use href="#l"/><text x="79" y="500">700</text></g></g>
<text class="cl" transform="rotate(-17.45 500 500)" x="500" y="43">TcDm25_Chr26_H1</text></g>
</svg>
